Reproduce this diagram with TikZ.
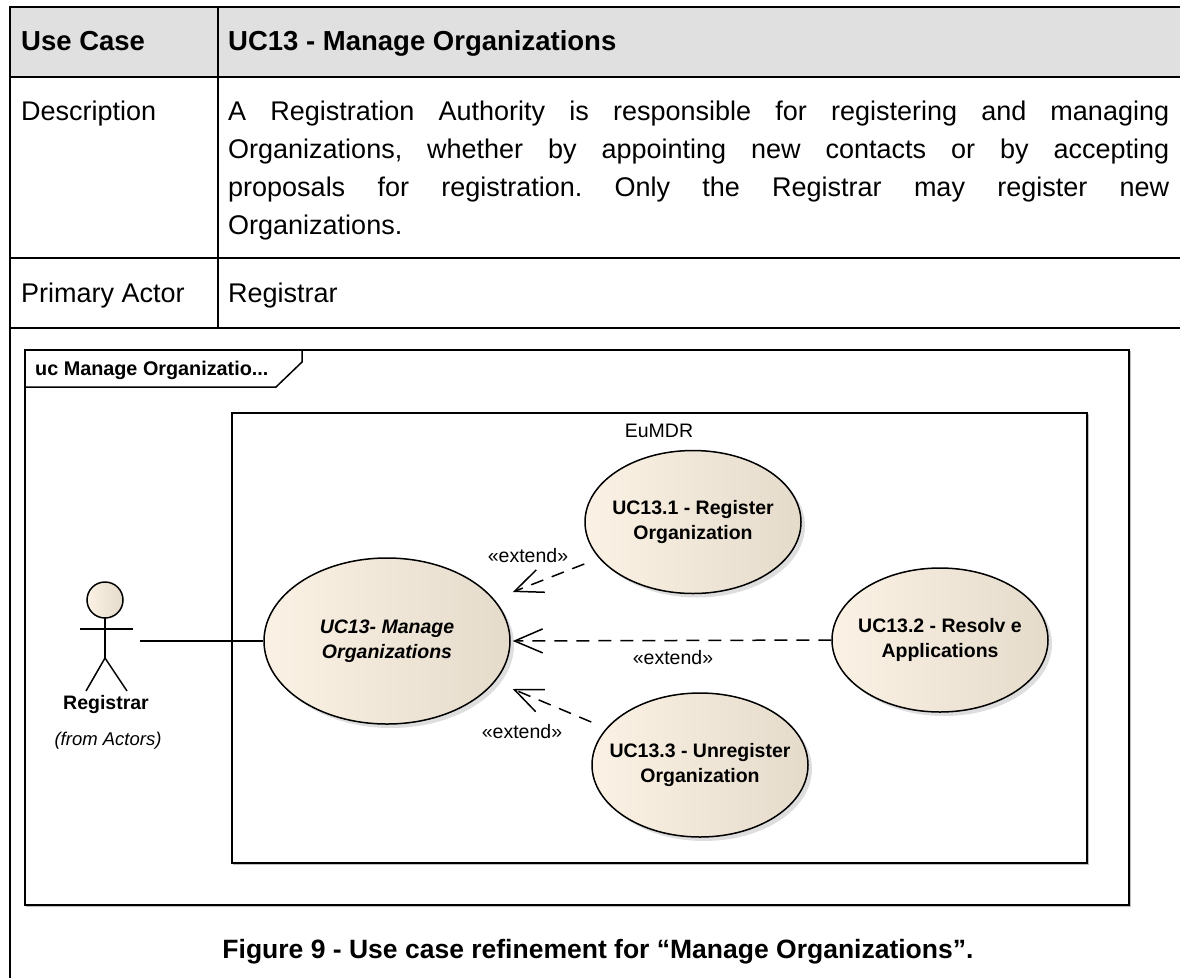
\documentclass[tikz,border=0pt]{standalone}
\usepackage{fontspec}
\setmainfont{Liberation Sans}
\usetikzlibrary{shapes.geometric,arrows.meta,shadows,calc}
\definecolor{hdrgray}{RGB}{224,224,224}
\definecolor{ucl}{RGB}{251,242,229}
\definecolor{ucr}{RGB}{229,219,203}
\definecolor{shadowgray}{RGB}{190,190,190}
\newcommand{\zc}[1]{\makebox[0pt]{#1}}
\frenchspacing
\begin{document}
\begin{tikzpicture}[x=1pt,y=-1pt,
  tbl/.style={line width=2pt},
  cell/.style={inner sep=0pt, anchor=base west, font=\fontsize{27}{32}\selectfont},
  cellb/.style={cell, font=\fontsize{27.5}{32}\selectfont\bfseries},
  frm/.style={line width=1.5pt},
  frmshadow/.style={line width=1.5pt, draw=shadowgray},
  uc/.style={ellipse, draw, line width=1.5pt, inner sep=0pt,
    minimum width=216pt, minimum height=143pt,
    left color=ucl, right color=ucr,
    drop shadow={shadow xshift=4pt, shadow yshift=-4pt, fill=shadowgray},
    align=center, font=\fontsize{19.5}{25}\selectfont\bfseries},
  lbl/.style={inner sep=0pt, anchor=base, font=\fontsize{19.5}{22}\selectfont},
  ext/.style={line width=1.5pt, dash pattern=on 13pt off 9pt,
    -{Straight Barb[length=28pt,width=24pt,line width=1.5pt]}},
  assoc/.style={line width=1.5pt},
  stick/.style={line width=1.5pt}
]
\useasboundingbox (0,0) rectangle (1180,978);
% ---------- table ----------
\fill[hdrgray] (10,7) rectangle (1180,77);
\draw[tbl] (10,7) -- (1180,7);
\draw[tbl] (10,77) -- (1180,77);
\draw[tbl] (10,258) -- (1180,258);
\draw[tbl] (10,328) -- (1180,328);
\draw[tbl] (10,6) -- (10,978);
\draw[tbl] (218,7) -- (218,328);
\node[cellb] (hUse) at (21,50) {Use Case};
\node[cellb] (hTitle) at (228,50) {UC13 - Manage Organizations};
\node[cell] (lDesc) at (21,120) {Description};
\node[cell] (d1) at (228,120) {\makebox[941pt][s]{A Registration Authority is responsible for registering and managing}};
\node[cell] (d2) at (228,158) {\makebox[941pt][s]{Organizations, whether by appointing new contacts or by accepting}};
\node[cell] (d3) at (228,196) {\makebox[941pt][s]{proposals for registration. Only the Registrar may register new}};
\node[cell] (d4) at (228,234) {Organizations.};
\node[cell] (lActor) at (21,302) {Primary Actor};
\node[cell] (vActor) at (228,302) {Registrar};
% ---------- frame ----------
\draw[frmshadow] (26.5,351.5) rectangle (1130.5,906.5);
\draw[frm, fill=white] (25,350) rectangle (1129,905);
\draw[frm] (25,387) -- (276,387) -- (302,362) -- (302,350);
\node[inner sep=0pt, anchor=base west, font=\fontsize{19.8}{22}\selectfont\bfseries] (tab) at (35,375) {uc Manage Organizatio...};
\draw[frmshadow] (233.5,414.5) rectangle (1088.5,864.5);
\draw[frm, fill=white] (232,413) rectangle (1087,863);
\node[lbl] (sys) at (659,437.5) {EuMDR};
% ---------- use cases ----------
\node[uc, minimum width=246pt, minimum height=166pt, font=\fontsize{19.5}{25}\selectfont\bfseries\itshape] (main) at (387,641) {\zc{UC13- Manage}\\\zc{Organizations}};
\node[uc] (uc1) at (693,522) {\zc{UC13.1 - Register}\\\zc{Organization}};
\node[uc, minimum height=144pt] (uc2) at (940,640) {\zc{UC13.2 - Resolv e}\\\zc{Applications}};
\node[uc, minimum height=144pt] (uc3) at (700,765) {\zc{UC13.3 - Unregister}\\\zc{Organization}};
% ---------- actor ----------
\node[inner sep=0pt, minimum width=70pt, minimum height=110pt] (actor) at (105,641) {};
\draw[stick, left color=ucl, right color=ucr] (105,600) circle[radius=18];
\draw[stick] (80,629) -- (133,629);
\draw[stick] (105,618) -- (105,658);
\draw[stick] (86,691) -- (105,658) -- (127,691);
\node[inner sep=0pt, anchor=base, font=\fontsize{19.5}{24}\selectfont\bfseries] (aname) at (106,709) {Registrar};
\node[inner sep=0pt, anchor=base, font=\fontsize{18.5}{22}\selectfont\itshape] (afrom) at (108,745) {(from Actors)};
% ---------- connectors ----------
\draw[assoc] (actor) -- (main);
\draw[ext] ([yshift=-42pt]uc1.west) -- ([xshift=2pt,yshift=49pt]main.east);
\draw[ext] (uc2.west) -- ([xshift=2pt]main.east);
\draw[ext] ([yshift=43pt]uc3.west) -- ([xshift=2pt,yshift=-48pt]main.east);
\node[lbl] (e1) at (528,562) {«extend»};
\node[lbl] (e2) at (673,664) {«extend»};
\node[lbl] (e3) at (522,738) {«extend»};
% ---------- caption ----------
\node[inner sep=0pt, anchor=base, font=\fontsize{26.5}{30}\selectfont\bfseries] (cap) at (598,958) {Figure 9 - Use case refinement for “Manage Organizations”.};
\end{tikzpicture}
\end{document}
